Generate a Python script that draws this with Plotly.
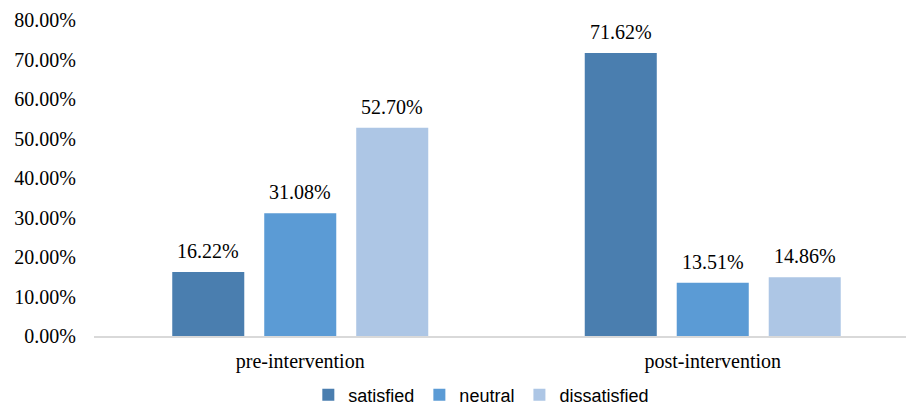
import plotly.graph_objects as go

# Satisfaction shares (%) before and after the intervention
periods = ["pre-intervention", "post-intervention"]
satisfied = [16.22, 71.62]
neutral = [31.08, 13.51]
dissatisfied = [52.70, 14.86]

series_names = ["satisfied", "neutral", "dissatisfied"]
series_values = [satisfied, neutral, dissatisfied]
series_colors = ["#4A7EAF", "#5B9BD5", "#ADC6E5"]

y_ticks = [0, 10, 20, 30, 40, 50, 60, 70, 80]
y_tick_text = [f"{v:.2f}%" for v in y_ticks]

SERIF = "Liberation Serif, Times New Roman, serif"
SANS = "Liberation Sans, Arial, sans-serif"

fig = go.Figure()
for name, vals, color in zip(series_names, series_values, series_colors):
    fig.add_trace(go.Bar(
        x=periods, y=vals, name=name,
        marker=dict(color=color, line=dict(width=0)),
    ))

# Value labels above each bar
slot_px = 92
for i, vals in enumerate(series_values):
    for p, v in zip(periods, vals):
        fig.add_annotation(
            x=p, y=v, text=f"{v:.2f}%", showarrow=False,
            xshift=(i - 1) * slot_px, yshift=21, yanchor="middle",
            font=dict(family=SERIF, size=20, color="#000000"),
        )

fig.update_layout(
    width=906, height=406,
    margin=dict(l=94, r=0, t=20, b=70, autoexpand=False),
    paper_bgcolor="white", plot_bgcolor="white",
    barmode="group", bargap=0.331, bargroupgap=0.217,
    showlegend=True,
    legend=dict(
        orientation="h", x=0.477, xanchor="center", y=-0.187, yanchor="middle",
        font=dict(family=SANS, size=18, color="#000000"),
        itemwidth=30, traceorder="normal",
    ),
    xaxis=dict(
        type="category", range=[-0.5, 1.4685],
        showline=True, linecolor="#D9D9D9", linewidth=1.5,
        showgrid=False, ticks="", ticklabelstandoff=6,
        tickfont=dict(family=SERIF, size=20, color="#000000"),
        fixedrange=True,
    ),
    yaxis=dict(
        range=[0, 80], tickvals=y_ticks, ticktext=y_tick_text,
        showgrid=False, showline=False, zeroline=False, ticks="",
        ticklabelstandoff=17,
        tickfont=dict(family=SERIF, size=20, color="#000000"),
        fixedrange=True,
    ),
)

fig.write_html("out.html")
